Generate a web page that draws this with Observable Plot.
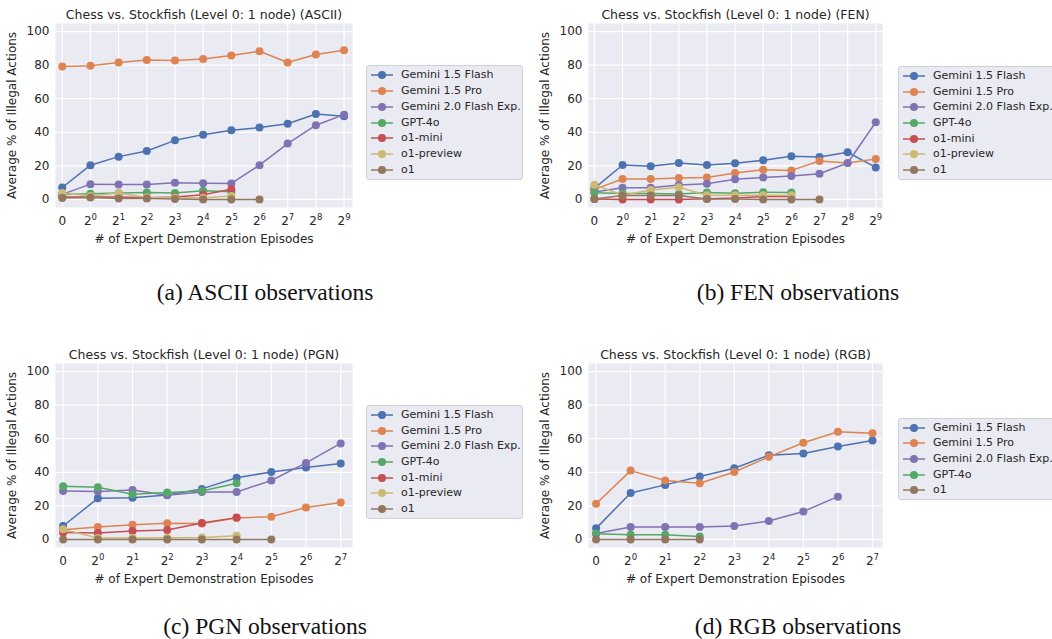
<!DOCTYPE html>
<html>
<head>
<meta charset="utf-8">
<script src="https://cdn.jsdelivr.net/npm/d3@7"></script>
<script src="https://cdn.jsdelivr.net/npm/@observablehq/plot@0.6"></script>
<style>
  html, body { margin: 0; padding: 0; background: #fff; }
  #root { position: relative; width: 1052px; height: 639px; overflow: hidden; font-family: "DejaVu Sans", sans-serif; color: #262626; }
  .pan { position: absolute; }
  .legend { position: absolute; box-sizing: border-box; border: 1px solid #cfcfd6; border-radius: 3px; background: #EAEAF2; }
  .legend .row { position: absolute; left: 0; height: 16px; white-space: nowrap; font-size: 11px; line-height: 16px; }
  .legend svg { position: absolute; left: 3px; top: 0; }
  .legend span { position: absolute; left: 34px; top: 0; }
  .cap { position: absolute; width: 530px; text-align: center; font-family: "Liberation Serif", serif; font-size: 23.5px; color: #111; line-height: 24px; }
</style>
</head>
<body>
<div id="root"></div>
<script>
// ---------- data ----------
const xLabels = ["0","2⁰","2¹","2²","2³","2⁴","2⁵","2⁶","2⁷","2⁸","2⁹"];
const yTicks = [0, 20, 40, 60, 80, 100];
const models = ["Gemini 1.5 Flash","Gemini 1.5 Pro","Gemini 2.0 Flash Exp.","GPT-4o","o1-mini","o1-preview","o1"];
const palette = ["#4C72B0","#DD8452","#8172B3","#55A868","#C44E52","#CCB974","#937860"];
const rgbModels = ["Gemini 1.5 Flash","Gemini 1.5 Pro","Gemini 2.0 Flash Exp.","GPT-4o","o1"];

// (a) ASCII
const asciiFlash15   = [7.1, 20.4, 25.5, 28.9, 35.2, 38.6, 41.2, 42.8, 45.1, 50.9, 49.5];
const asciiPro15     = [79.2, 79.6, 81.6, 83.0, 82.8, 83.6, 85.7, 88.3, 81.6, 86.3, 88.9];
const asciiFlash20   = [3.0, 9.1, 8.9, 8.9, 9.9, 9.7, 9.5, 20.4, 33.3, 44.2, 50.5];
const asciiGpt4o     = [3.0, 3.4, 3.9, 4.1, 3.9, 5.2, 4.6];
const asciiO1mini    = [1.5, 1.5, 1.5, 1.0, 1.5, 2.8, 6.1];
const asciiO1preview = [3.9, 2.0, 3.8, 1.2, 1.0, 1.0, 2.0];
const asciiO1        = [0.8, 1.2, 0.6, 0.6, 0.2, 0.0, 0.0, 0.0];

// (b) FEN
const fenFlash15   = [6.6, 20.5, 19.7, 21.7, 20.5, 21.5, 23.3, 25.7, 25.3, 28.1, 19.1];
const fenPro15     = [6.0, 12.2, 12.2, 12.7, 13.1, 15.7, 17.7, 17.3, 22.9, 21.7, 24.1];
const fenFlash20   = [4.5, 7.0, 7.0, 8.6, 9.4, 12.0, 13.0, 13.9, 15.3, 21.7, 46.0];
const fenGpt4o     = [4.0, 3.5, 3.6, 3.3, 4.1, 3.7, 4.3, 4.1];
const fenO1mini    = [0.2, 0.0, 0.0, 0.0, 0.4, 0.8, 1.8, 1.8];
const fenO1preview = [8.8, 2.5, 5.6, 7.3, 2.5, 2.5, 2.5, 2.5];
const fenO1        = [0.3, 2.3, 2.3, 2.3, 0.3, 0.3, 0.0, 0.0, 0.0];

// (c) PGN
const pgnFlash15   = [8.0, 24.5, 24.9, 26.5, 30.1, 36.7, 40.2, 42.8, 45.2];
const pgnPro15     = [5.8, 7.4, 8.8, 9.6, 9.5, 12.8, 13.5, 19.0, 22.0];
const pgnFlash20   = [28.9, 28.5, 29.5, 26.3, 28.3, 28.3, 35.1, 45.6, 57.2];
const pgnGpt4o     = [31.7, 31.1, 26.9, 27.9, 28.9, 33.5];
const pgnO1mini    = [4.2, 3.8, 5.0, 5.6, 9.8, 13.0];
const pgnO1preview = [6.0, 0.8, 0.8, 1.0, 1.2, 2.2];
const pgnO1        = [0, 0, 0, 0, 0, 0, 0];

// (d) RGB
const rgbFlash15 = [6.6, 27.7, 32.5, 37.5, 42.4, 50.2, 51.2, 55.4, 59.0];
const rgbPro15   = [21.3, 41.0, 35.1, 33.5, 40.2, 49.2, 57.6, 64.1, 63.3];
const rgbFlash20 = [3.5, 7.4, 7.4, 7.4, 8.0, 11.0, 16.7, 25.5];
const rgbGpt4o   = [3.4, 2.8, 2.8, 1.8];
const rgbO1      = [0, 0, 0, 0];

const colorOf = Object.fromEntries(models.map((m, i) => [m, palette[i]]));
const supDigits = "⁰¹²³⁴⁵⁶⁷⁸⁹";

// ---------- drawing ----------
const root = document.getElementById("root");
const NS = "http://www.w3.org/2000/svg";

function makePanel({title, xCount, xDomain, series, left, top, marginLeft}) {
  const marks = [
    Plot.frame({fill: "#EAEAF2", stroke: "none"}),
    Plot.gridY(yTicks, {stroke: "#ffffff", strokeOpacity: 1, strokeWidth: 1.2}),
    Plot.gridX(d3.range(xCount), {stroke: "#ffffff", strokeOpacity: 1, strokeWidth: 1.2}),
    Plot.axisY(yTicks, {tickSize: 0, tickPadding: 6, fontSize: 12, label: "Average % of Illegal Actions",
      labelAnchor: "center", labelOffset: 48, labelArrow: "none"}),
    Plot.axisX(d3.range(xCount), {tickSize: 0, tickPadding: 9, fontSize: 12, tickFormat: i => xLabels[i],
      label: "# of Expert Demonstration Episodes", labelAnchor: "center", labelOffset: 35, labelArrow: "none"})
  ];
  for (const s of series) {
    const data = s.values.map((v, i) => ({i, v}));
    marks.push(Plot.line(data, {x: "i", y: "v", stroke: colorOf[s.model], strokeWidth: 1.5}));
    marks.push(Plot.dot(data, {x: "i", y: "v", fill: colorOf[s.model], stroke: "none", r: 4}));
  }
  marks.push(Plot.text([title], {frameAnchor: "top", dy: -13, fontSize: 12.5, fill: "#262626"}));
  const svg = Plot.plot({
    width: 360, height: 250,
    marginLeft, marginRight: 8, marginTop: 23, marginBottom: 43,
    x: {domain: xDomain},
    y: {domain: [-4.8, 104.8]},
    style: {fontFamily: "DejaVu Sans", fontSize: "12px", color: "#262626", background: "transparent", overflow: "visible"},
    marks
  });
  // render "2ⁿ" tick labels as base + raised exponent
  svg.querySelectorAll('[aria-label="x-axis tick label"] text').forEach(t => {
    const s = t.textContent;
    if (s.length === 2 && s[0] === "2" && supDigits.includes(s[1])) {
      t.textContent = "2";
      const ts = document.createElementNS(NS, "tspan");
      ts.setAttribute("font-size", "8.5");
      ts.setAttribute("dy", "-5");
      ts.textContent = String(supDigits.indexOf(s[1]));
      t.appendChild(ts);
    }
  });
  svg.classList.add("pan");
  svg.style.left = left + "px";
  svg.style.top = top + "px";
  root.appendChild(svg);
}

function makeLegend(names, left, top, width, height) {
  const box = document.createElement("div");
  box.className = "legend";
  Object.assign(box.style, {left: left + "px", top: top + "px", width: width + "px", height: height + "px"});
  const step = 15.7;
  const first = (height - 2 - (names.length - 1) * step) / 2;
  names.forEach((m, k) => {
    const row = document.createElement("div");
    row.className = "row";
    row.style.top = (first + k * step - 8) + "px";
    const c = colorOf[m];
    row.innerHTML = `<svg width="24" height="16"><line x1="1" x2="23" y1="8" y2="8" stroke="${c}" stroke-width="1.5"/><circle cx="12" cy="8" r="4" fill="${c}"/></svg><span>${m}</span>`;
    box.appendChild(row);
  });
  root.appendChild(box);
}

function makeCaption(text, left, top) {
  const d = document.createElement("div");
  d.className = "cap";
  d.textContent = text;
  d.style.left = left + "px";
  d.style.top = top + "px";
  root.appendChild(d);
}

const title = s => `Chess vs. Stockfish (Level 0: 1 node) (${s})`;

makePanel({title: title("ASCII"), xCount: 11, xDomain: [-0.24, 10.3], left: 0, top: 0, marginLeft: 55, series: [
  {model: models[0], values: asciiFlash15}, {model: models[1], values: asciiPro15},
  {model: models[2], values: asciiFlash20}, {model: models[3], values: asciiGpt4o},
  {model: models[4], values: asciiO1mini}, {model: models[5], values: asciiO1preview},
  {model: models[6], values: asciiO1}]});

makePanel({title: title("FEN"), xCount: 11, xDomain: [-0.21, 10.24], left: 530, top: 0, marginLeft: 58, series: [
  {model: models[0], values: fenFlash15}, {model: models[1], values: fenPro15},
  {model: models[2], values: fenFlash20}, {model: models[3], values: fenGpt4o},
  {model: models[4], values: fenO1mini}, {model: models[5], values: fenO1preview},
  {model: models[6], values: fenO1}]});

makePanel({title: title("PGN"), xCount: 9, xDomain: [-0.22, 8.34], left: 0, top: 340, marginLeft: 55, series: [
  {model: models[0], values: pgnFlash15}, {model: models[1], values: pgnPro15},
  {model: models[2], values: pgnFlash20}, {model: models[3], values: pgnGpt4o},
  {model: models[4], values: pgnO1mini}, {model: models[5], values: pgnO1preview},
  {model: models[6], values: pgnO1}]});

makePanel({title: title("RGB"), xCount: 9, xDomain: [-0.22, 8.29], left: 530, top: 340, marginLeft: 58, series: [
  {model: rgbModels[0], values: rgbFlash15}, {model: rgbModels[1], values: rgbPro15},
  {model: rgbModels[2], values: rgbFlash20}, {model: rgbModels[3], values: rgbGpt4o},
  {model: rgbModels[4], values: rgbO1}]});

makeLegend(models, 366, 65, 157, 115);
makeLegend(models, 898, 66, 160, 114);
makeLegend(models, 366, 405, 157, 114);
makeLegend(rgbModels, 898, 418, 160, 82);

makeCaption("(a) ASCII observations", 0, 280);
makeCaption("(b) FEN observations", 533, 280);
makeCaption("(c) PGN observations", 0, 614);
makeCaption("(d) RGB observations", 533, 614);
</script>
</body>
</html>
